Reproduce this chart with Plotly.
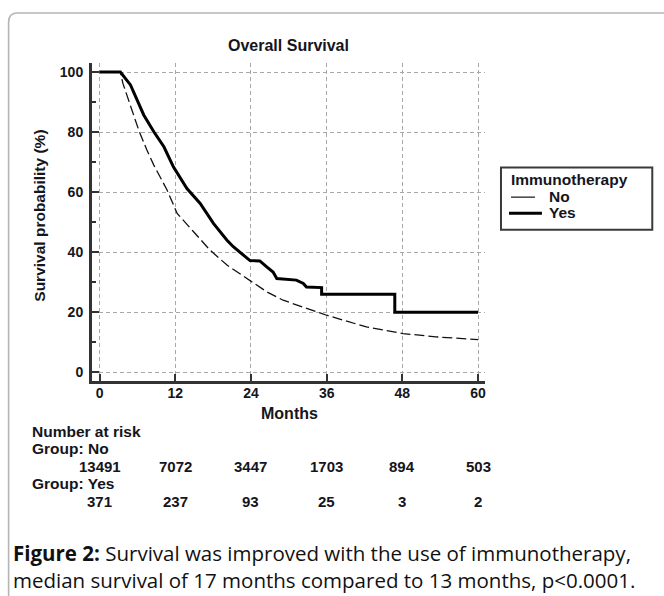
import plotly.graph_objects as go

# ---------------- data ----------------
months_ticks = [0, 12, 24, 36, 48, 60]
surv_ticks = [0, 20, 40, 60, 80, 100]

risk_no = [13491, 7072, 3447, 1703, 894, 503]
risk_yes = [371, 237, 93, 25, 3, 2]

yes_time = [0, 3.3, 4.9, 5.95, 7.0, 8.6, 10.2, 11.7, 13.85, 15.95, 18.05, 20.2, 21.2,
            23.85, 25.4, 26.5, 27.5, 28.1, 31.2, 32.3, 32.8, 35.2, 35.2, 46.8, 46.8, 60]
yes_surv = [100, 100, 95.7, 90.7, 85.7, 80.1, 75.1, 68.4, 61.2, 56.2, 49.6, 44.0, 41.8,
            37.2, 37.1, 35.1, 33.4, 31.2, 30.7, 29.6, 28.4, 28.2, 26.0, 26.0, 20.0, 20.0]

no_time = [0, 3.3, 3.7, 4.9, 6.2, 7.5, 8.6, 10.7, 12.3, 14.9, 17.5, 20.2, 23.3, 26.5,
           29.1, 36.0, 42.3, 48.1, 53.3, 60]
no_surv = [100, 100, 96.2, 88.4, 80.7, 74.0, 69.0, 60.7, 52.9, 46.8, 40.7, 35.7, 31.2, 26.8,
           24.0, 19.0, 15.1, 12.9, 11.8, 10.9]

title_text = "Overall Survival"
legend_title = "Immunotherapy"
group_names = ["No", "Yes"]
caption_1 = "<b>Figure 2:</b> Survival was improved with the use of immunotherapy,"
caption_2 = "median survival of 17 months compared to 13 months, p&lt;0.0001."

# ---------------- layout geometry (pixels) ----------------
W, H = 664, 596
L, R, T, B = 91.5, 485.0, 63.0, 380.7


def fx(px):
    return (px - L) / (R - L)


def fy(py):
    return (B - py) / (B - T)


FONT = "Liberation Sans, Arial, sans-serif"
TXT = "#151520"

fig = go.Figure()
fig.add_trace(go.Scatter(x=no_time, y=no_surv, mode="lines", name=group_names[0],
                         line=dict(color="#111", width=1.3, dash="10px,4px"),
                         showlegend=False))
fig.add_trace(go.Scatter(x=yes_time, y=yes_surv, mode="lines", name=group_names[1],
                         line=dict(color="#000", width=3),
                         showlegend=False))

fig.update_layout(
    width=W, height=H,
    margin=dict(l=L, r=W - R, t=T, b=H - B, autoexpand=False),
    paper_bgcolor="white", plot_bgcolor="white",
    font=dict(family=FONT, color=TXT, size=13),
)

fig.update_xaxes(
    range=[-1.2, 61.1], tickvals=months_ticks, ticktext=[str(v) for v in months_ticks],
    ticks="inside", ticklen=7, tickwidth=2, tickcolor="#333",
    showline=True, linecolor="#333", linewidth=3,
    showgrid=True, gridcolor="#a8a8a8", gridwidth=1, griddash="4px,3px",
    zeroline=False,
    tickfont=dict(family=FONT, size=14, weight="bold", color=TXT),
    ticklabelstandoff=-3,
)
fig.update_yaxes(
    range=[-2.9, 103], tickvals=surv_ticks, ticktext=[str(v) for v in surv_ticks],
    ticks="inside", ticklen=7, tickwidth=2, tickcolor="#333",
    minor=dict(tickvals=[10, 30, 50, 70, 90], ticks="inside", ticklen=4, tickwidth=2,
               tickcolor="#333", showgrid=False),
    showline=True, linecolor="#333", linewidth=3,
    showgrid=True, gridcolor="#a8a8a8", gridwidth=1, griddash="4px,3px",
    zeroline=False,
    tickfont=dict(family=FONT, size=14, weight="bold", color=TXT),
    ticklabelstandoff=3,
)

ann = []
# title
ann.append(dict(text=title_text, x=fx(288.5), y=fy(46), xref="paper", yref="paper",
                showarrow=False, xanchor="center", yanchor="middle",
                font=dict(family=FONT, size=16, weight="bold", color=TXT)))
# y axis title
ann.append(dict(text="Survival probability (%)", x=fx(39), y=fy(216), xref="paper", yref="paper",
                showarrow=False, xanchor="center", yanchor="middle", textangle=-90,
                font=dict(family=FONT, size=15.5, weight="bold", color=TXT)))
# x axis title
ann.append(dict(text="Months", x=fx(289), y=fy(413), xref="paper", yref="paper",
                showarrow=False, xanchor="center", yanchor="middle",
                font=dict(family=FONT, size=16, weight="bold", color=TXT)))
# number at risk
for txt, py in [("Number at risk", 431), ("Group: No", 448.5), ("Group: Yes", 483.5)]:
    ann.append(dict(text=txt, x=fx(29), y=fy(py), xref="paper", yref="paper",
                    showarrow=False, xanchor="left", yanchor="middle",
                    font=dict(family=FONT, size=15.5, weight="bold", color=TXT)))
for vals, py in [(risk_no, 466), (risk_yes, 501.5)]:
    for m, v in zip(months_ticks, vals):
        ann.append(dict(text=str(v), x=m, y=fy(py), xref="x", yref="paper",
                        showarrow=False, xanchor="center", yanchor="middle",
                        font=dict(family=FONT, size=15, weight="bold", color=TXT)))
# legend
ann.append(dict(text=legend_title, x=fx(509), y=fy(179), xref="paper", yref="paper",
                showarrow=False, xanchor="left", yanchor="middle",
                font=dict(family=FONT, size=15.5, weight="bold", color=TXT)))
for name, py in [(group_names[0], 196.5), (group_names[1], 212)]:
    ann.append(dict(text=name, x=fx(547), y=fy(py), xref="paper", yref="paper",
                    showarrow=False, xanchor="left", yanchor="middle",
                    font=dict(family=FONT, size=15.5, weight="bold", color=TXT)))
# caption
CAP_FONT = "Open Sans, Noto Sans, sans-serif"
ann.append(dict(text=caption_1, x=fx(10), y=fy(553), xref="paper", yref="paper",
                showarrow=False, xanchor="left", yanchor="middle",
                font=dict(family=CAP_FONT, size=20.5, color="#111")))
ann.append(dict(text=caption_2, x=fx(10), y=fy(580), xref="paper", yref="paper",
                showarrow=False, xanchor="left", yanchor="middle",
                font=dict(family=CAP_FONT, size=20.5, color="#111")))
fig.update_layout(annotations=ann)

shapes = []
# outer rounded frame
r = 9
frame = "M {x0},{yb} L {x0},{y1} Q {x0},{yt} {x2},{yt} L {xr},{yt}".format(
    x0=fx(8), yb=fy(600), y1=fy(13 + r), yt=fy(13), x2=fx(8 + r), xr=fx(700))
shapes.append(dict(type="path", path=frame, xref="paper", yref="paper",
                   line=dict(color="#b5b5b5", width=1.6)))
# legend box
shapes.append(dict(type="rect", x0=fx(501), x1=fx(652.5), y0=fy(167.5), y1=fy(229.5),
                   xref="paper", yref="paper", line=dict(color="#3a3a3a", width=2)))
shapes.append(dict(type="line", x0=fx(511), x1=fx(535), y0=fy(197), y1=fy(197),
                   xref="paper", yref="paper", line=dict(color="#111", width=1.2)))
shapes.append(dict(type="line", x0=fx(509), x1=fx(542), y0=fy(213), y1=fy(213),
                   xref="paper", yref="paper", line=dict(color="#000", width=3)))
fig.update_layout(shapes=shapes)

fig.write_html("out.html", config={"displayModeBar": False},
               post_script="document.body.style.margin='0';document.body.style.padding='0';")
